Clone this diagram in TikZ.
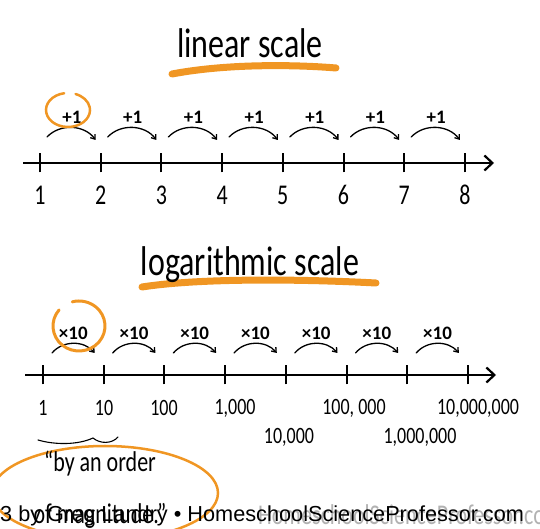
\documentclass[tikz,border=0pt]{standalone}
\usepackage{fontspec}
\usepackage{graphicx}
\setmainfont{Carlito}
\newfontfamily\creditfont{Liberation Sans}
\usetikzlibrary{arrows.meta,positioning}
\definecolor{highlight}{RGB}{240,150,35}
\newcommand\tallhand[1]{\scalebox{1}[1.3]{#1}}
\begin{document}
\begin{tikzpicture}[x=1pt,y=1pt,
    >={Straight Barb[length=4pt,width=6pt]},
    hop/.style={line width=1.3pt,->,line cap=round},
    axisline/.style={line width=2.2pt,-{Straight Barb[length=8pt,width=15pt,line width=2.2pt]}},
    tickmark/.style={line width=2pt},
    marker/.style={color=highlight,line cap=round},
    numlabel/.style={font=\fontsize{22}{22}\selectfont},
    loglabel/.style={font=\fontsize{18}{18}\selectfont},
    steplabel/.style={font=\bfseries\fontsize{19}{19}\selectfont,inner sep=1pt},
    heading/.style={font=\fontsize{32}{32}\selectfont}]
    \useasboundingbox (0,0) rectangle (540,529);

    % linear scale
    \draw[marker,line width=7pt] (172,455) .. controls (230,466) and (300,464) .. (336,461);
    \node[heading] (lintitle) at (250,486) {\tallhand{linear scale}};
    \coordinate (lstart) at (23,366);
    \coordinate (lend) at (494,366);
    \draw[axisline] (lstart) -- (lend);
    \foreach \i [count=\n] in {0,...,7}{
        \coordinate (l\i) at ({40+60.7*\i},366);
        \draw[tickmark] ([yshift=-9.5pt]l\i) -- ([yshift=9.5pt]l\i);
        \node[numlabel] (ln\i) at ([yshift=-32pt]l\i) {\tallhand{\n}};
    }
    \foreach \i [count=\j] in {0,...,6}{
        \draw[hop] ([shift={(7,26)}]l\i) to[bend left=50]
            node[midway,above=2pt,steplabel] (lp\i) {+1} ([shift={(-5,23)}]l\j);
    }
    \draw[marker,line width=2.5pt] (68,419) ++(100:22 and 17)
        arc[start angle=100,end angle=430,x radius=22,y radius=17];

    % logarithmic scale
    \draw[marker,line width=7pt] (142,242) .. controls (200,251) and (300,250) .. (376,246);
    \node[heading] (logtitle) at (250,264) {\tallhand{logarithmic scale}};
    \coordinate (gstart) at (25,154);
    \coordinate (gend) at (496,154);
    \draw[axisline] (gstart) -- (gend);
    \foreach \i in {0,...,7}{
        \coordinate (g\i) at ({43+60.7*\i},154);
        \draw[tickmark] ([yshift=-9.5pt]g\i) -- ([yshift=9.5pt]g\i);
    }
    \foreach \i [count=\j] in {0,...,6}{
        \draw[hop] ([shift={(9,22)}]g\i) to[bend left=50]
            node[midway,above=2pt,steplabel] (gp\i) {×10} ([shift={(-9,22)}]g\j);
    }
    \draw[marker,line width=3pt] (79,203) ++(140:26 and 25)
        arc[start angle=140,end angle=465,x radius=26,y radius=25];
    \foreach \txt/\x/\y [count=\n] in {1/43/121,10/104/121,100/164/121,{1,000}/235/121,
        {10,000}/289/92,{100, 000}/354/121,{1,000,000}/420/92,{10,000,000}/478/121}{
        \node[loglabel] (gn\n) at (\x,\y) {\tallhand{\txt}};
    }

    % order of magnitude note
    \draw[line width=1.1pt,line cap=round] (38,89) .. controls (55,84) and (78,84) .. (93,91)
        .. controls (100,85) and (112,85) .. (118,92);
    \draw[marker,line width=2.5pt] (105,36) ellipse[x radius=113,y radius=47];
    \node[font=\fontsize{22}{22}\selectfont] (note1) at (100,66) {\tallhand{``by an order}};
    \node[font=\fontsize{22}{22}\selectfont] (note2) at (100,13) {\tallhand{of magnitude.''}};

    % credit line
    \node[anchor=east,text=black!30,font=\fontsize{22}{22}\selectfont] (faint) at (566,14)
        {\tallhand{HomeschoolScienceProfessor.com}};
    \node[anchor=west,inner sep=0pt,font=\creditfont\fontsize{21.7}{21.7}\selectfont] (credit) at (0,13)
        {3 by Greg Landry • HomeschoolScienceProfessor.com};
\end{tikzpicture}
\end{document}
